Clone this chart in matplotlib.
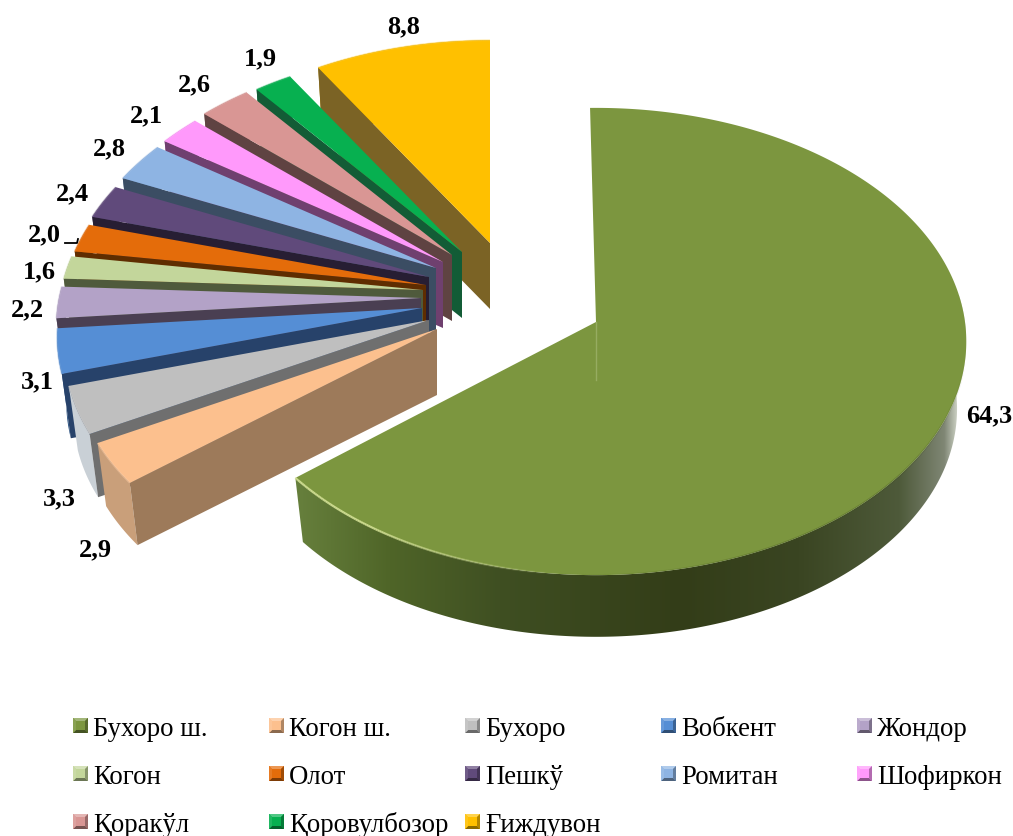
import numpy as np
import matplotlib
matplotlib.use('Agg')
import matplotlib.pyplot as plt
import matplotlib.colors as mcolors
from matplotlib.collections import LineCollection
from matplotlib.patches import Polygon

plt.rcParams['font.family'] = ['Liberation Serif', 'DejaVu Serif']

districts = ['Бухоро ш.', 'Когон ш.', 'Бухоро', 'Вобкент', 'Жондор',
             'Когон', 'Олот', 'Пешкў', 'Ромитан', 'Шофиркон',
             'Қоракўл', 'Қоровулбозор', 'Ғиждувон']
shares = [64.3, 2.9, 3.3, 3.1, 2.2, 1.6, 2.0, 2.4, 2.8, 2.1, 2.6, 1.9, 8.8]

top_colors = ['#7c963f', '#fcc08e', '#bfbfbf', '#558ed5', '#b3a2c7', '#c3d69b', '#e46c0a',
              '#604a7b', '#8eb4e3', '#ff99fb', '#d99694', '#07b050', '#ffc000']
side_colors = ['#4c6127', '#9d7a5a', '#6f6f6f', '#27426a', '#4a3f52', '#4f5a3c', '#5f2d00',
               '#271e33', '#3b4d63', '#6f406f', '#5f4342', '#135c36', '#7b6325']
wall_colors = ['#4c6127', '#c99f7a', '#c9d0d6', '#1f4a7d', '#6f6280', '#7f8c62', '#9c4a08',
               '#3e3050', '#5d7a9e', '#a060a0', '#8f6463', '#0a7038', '#a68000']

# where each exploded slice has its point, in pixels
apex_x = [596, 437, 429, 422, 421, 423, 426, 429, 436, 443, 452, 462, 490]
apex_y = [322, 329, 320, 308, 298, 290, 285, 277, 268, 262, 255, 252, 243]

label_x = [989, 95, 59, 37, 27, 39, 44, 72, 109, 146, 194, 260, 404]
label_y = [416, 550, 499, 382, 310, 272, 235, 194, 149, 116, 85, 59, 27]

legend_x = [73, 269, 465, 661, 857]
legend_y = [725, 773, 821]

# side wall of the big slice, dark in front and fading out on the right
wall_stops_x = [299, 390, 500, 680, 800, 900, 945, 960]
wall_stops_c = ['#667f3c', '#4f6528', '#3f4f22', '#333d18', '#3a4522', '#4e5a3a', '#7f8674', '#d8dcd0']

# the big slice and the small ones have slightly different perspective
BIG = (369, 232, 0.0835)
SMALL = (362, 228, 0.125)
DEPTH = 66
BOTTOM_SCALE = 0.975


def project(t, view):
    # circle in the pie plane seen in perspective, t in degrees clockwise from the top
    rx, ry, k = view
    u, v = np.sin(np.radians(t)), np.cos(np.radians(t))
    w = 1 + k * v
    return rx * u / w, -ry * v / w


def shade(color, f):
    c = np.array(mcolors.to_rgb(color))
    return tuple(c * f if f < 1 else c + (1 - c) * (f - 1))


def draw_big_wall(top_x, top_y, bot_x, bot_y, ts):
    keep = np.cos(np.radians(ts)) < 0.12
    xs = np.r_[top_x[keep], bot_x[keep][::-1]]
    ys = np.r_[top_y[keep], bot_y[keep][::-1]]
    grid = np.linspace(xs.min(), xs.max(), 700)
    rgb = [mcolors.to_rgb(c) for c in wall_stops_c]
    strip = np.dstack([np.interp(grid, wall_stops_x, [c[n] for c in rgb]) for n in range(3)])
    im = ax.imshow(strip, extent=(xs.min(), xs.max(), ys.max(), ys.min()), aspect='auto', zorder=2)
    im.set_clip_path(Polygon(np.c_[xs, ys], transform=ax.transData))


def draw_slice(i, t0, t1):
    ax_, ay_ = apex_x[i], apex_y[i]
    view = BIG if i == 0 else SMALL
    depth = DEPTH + 2 if i == 0 else DEPTH
    ts = np.linspace(t0, t1, max(int(t1 - t0) * 3, 12))
    px, py = project(ts, view)
    top_x, top_y = ax_ + px, ay_ + py
    bot_x, bot_y = ax_ + px * BOTTOM_SCALE, ay_ + depth + py * BOTTOM_SCALE

    if i == 0:
        draw_big_wall(top_x, top_y, bot_x, bot_y, ts)
    else:
        ax.fill([ax_, top_x[0], bot_x[0], ax_], [ay_, top_y[0], bot_y[0], ay_ + depth],
                color=side_colors[i], lw=0, zorder=2 + i * 0.01 + (12 - i))
        ax.fill(np.r_[top_x, bot_x[::-1]], np.r_[top_y, bot_y[::-1]],
                color=wall_colors[i], lw=0, zorder=2 + (12 - i))

    z = 3 if i == 0 else 2.5 + (12 - i)
    ax.fill(np.r_[ax_, top_x], np.r_[ay_, top_y], color=top_colors[i], lw=0, zorder=z)

    # soft bevel along the rim
    pts = np.c_[top_x, top_y].reshape(-1, 1, 2)
    segs = np.concatenate([pts[:-1], pts[1:]], axis=1)
    if i == 0:
        cols = []
        for t in ts[:-1]:
            if t > 185:
                a = min((t - 185) / 30, 1)
                cols.append((0.85, 0.9, 0.6, 0.85 * a))
            elif t > 100:
                a = min((185 - t) / 30, 1) * min((t - 100) / 30, 1)
                cols.append((0.25, 0.32, 0.1, 0.3 * a))
            else:
                cols.append((0, 0, 0, 0))
        ax.add_collection(LineCollection(segs, colors=cols, linewidths=1.6, zorder=z + 0.1))
    else:
        ax.add_collection(LineCollection(segs, colors=[shade(top_colors[i], 1.2)],
                                         linewidths=1.2, alpha=0.5, zorder=z + 0.1))


def draw_marker(x, y, color):
    s = 15
    b = 3
    outer = [(x, y), (x + s, y), (x + s, y + s), (x, y + s)]
    inner = [(x + b, y + b), (x + s - b, y + b), (x + s - b, y + s - b), (x + b, y + s - b)]
    factors = [1.3, 0.7, 0.55, 1.1]
    ax.fill([p[0] for p in outer], [p[1] for p in outer], color=color, lw=0, zorder=30)
    for k in range(4):
        a, b2, c, d = outer[k], outer[(k + 1) % 4], inner[(k + 1) % 4], inner[k]
        ax.fill([a[0], b2[0], c[0], d[0]], [a[1], b2[1], c[1], d[1]],
                color=shade(color, factors[k]), lw=0, zorder=30)


fig = plt.figure(figsize=(10.13, 8.36), dpi=100)
ax = fig.add_axes([0, 0, 1, 1])

start = 0.0
for i, share in enumerate(shares):
    end = start + share * 3.6
    if i == 0:
        draw_slice(i, start - 1.0, end - 1.0)
    else:
        draw_slice(i, start, end)
    start = end

# faint seam on the big slice below its point
ax.plot([596, 596], [322, 380], color='#a8bc78', lw=1, alpha=0.6, zorder=4)

for i, share in enumerate(shares):
    ax.text(label_x[i], label_y[i], f'{share:.1f}'.replace('.', ','), fontsize=19,
            fontweight='bold', ha='center', va='center', color='black', zorder=40)

# leader line for the 2,0 label
ax.plot([65, 77, 78], [243, 243, 239], color='black', lw=1.3, zorder=40)

for i, name in enumerate(districts):
    row, col = divmod(i, 5)
    draw_marker(legend_x[col], legend_y[row] - 7, top_colors[i])
    ax.text(legend_x[col] + 20, legend_y[row] + 4, name, fontsize=19.3, ha='left', va='center',
            color='black', zorder=40)

ax.set_xlim(0, 1013)
ax.set_ylim(836, 0)
ax.set_aspect('auto')
ax.axis('off')

fig.savefig('out.png', dpi=100)
